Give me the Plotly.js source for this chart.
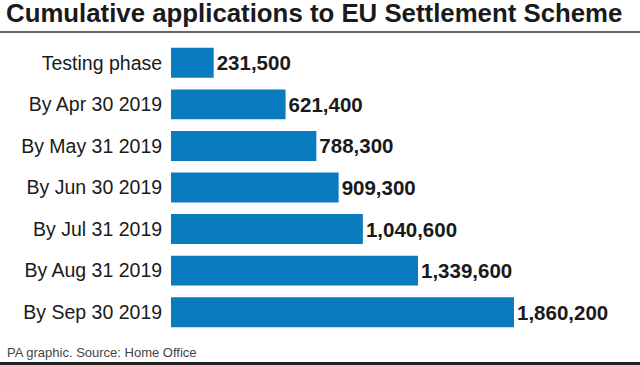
<!DOCTYPE html>
<html>
<head>
<meta charset="utf-8">
<script src="https://cdn.plot.ly/plotly-3.0.1.min.js"></script>
<style>html,body{margin:0;padding:0;background:#fff;}#chart{width:640px;height:365px;}</style>
</head>
<body>
<div id="chart"></div>
<script>
const categories = ["Testing phase","By Apr 30 2019","By May 31 2019","By Jun 30 2019","By Jul 31 2019","By Aug 31 2019","By Sep 30 2019"];
const applications = [231500, 621400, 788300, 909300, 1040600, 1339600, 1860200];
const titleText = "Cumulative applications to EU Settlement Scheme";
const sourceText = "PA graphic. Source: Home Office";

const W = 640, H = 365;
const L = 171, R = 40, T = 42, B = 32;
const pw = W - L - R, ph = H - T - B;
const pxPerUnit = 343 / 1860200;
const xMax = pw / pxPerUnit;
const px = v => (v - L) / pw;
const py = v => (H - B - v) / ph;
const FONT = 'Liberation Sans, Arial, sans-serif';

const trace = {
  type: 'bar',
  orientation: 'h',
  y: categories,
  x: applications,
  marker: {color: '#0b7bc0'},
  texttemplate: '<b>%{x:,}</b>',
  textposition: 'outside',
  textfont: {family: FONT, size: 20.5, color: '#1a1a1a'},
  cliponaxis: false,
  hoverinfo: 'none'
};

const layout = {
  width: W, height: H,
  margin: {l: L, r: R, t: T, b: B},
  paper_bgcolor: '#fff', plot_bgcolor: '#fff',
  bargap: 0.28,
  showlegend: false,
  title: {
    text: '<b>' + titleText + '</b>',
    font: {family: FONT, size: 25.8, color: '#1a1a1a'},
    xref: 'container', x: 6 / W, xanchor: 'left',
    yref: 'container', y: 1 - 4 / H, yanchor: 'top'
  },
  xaxis: {range: [0, xMax], visible: false, fixedrange: true},
  yaxis: {
    autorange: 'reversed',
    showgrid: false, zeroline: false, showline: false,
    ticks: 'outside', ticklen: 4, tickcolor: 'rgba(0,0,0,0)',
    tickfont: {family: FONT, size: 19.5, color: '#1a1a1a'}
  },
  shapes: [
    {type: 'line', xref: 'paper', yref: 'paper', x0: px(0), x1: px(W), y0: py(32), y1: py(32), line: {color: '#333', width: 1.5}},
    {type: 'rect', xref: 'paper', yref: 'paper', x0: px(0), x1: px(W), y0: py(362), y1: py(366), line: {width: 0}, fillcolor: '#222'}
  ],
  annotations: [
    {text: sourceText, xref: 'paper', yref: 'paper', x: px(5), y: py(352), xanchor: 'left', yanchor: 'middle', showarrow: false,
     font: {family: FONT, size: 13, color: '#444'}}
  ]
};

Plotly.newPlot('chart', [trace], layout, {displayModeBar: false, staticPlot: true});
</script>
</body>
</html>
